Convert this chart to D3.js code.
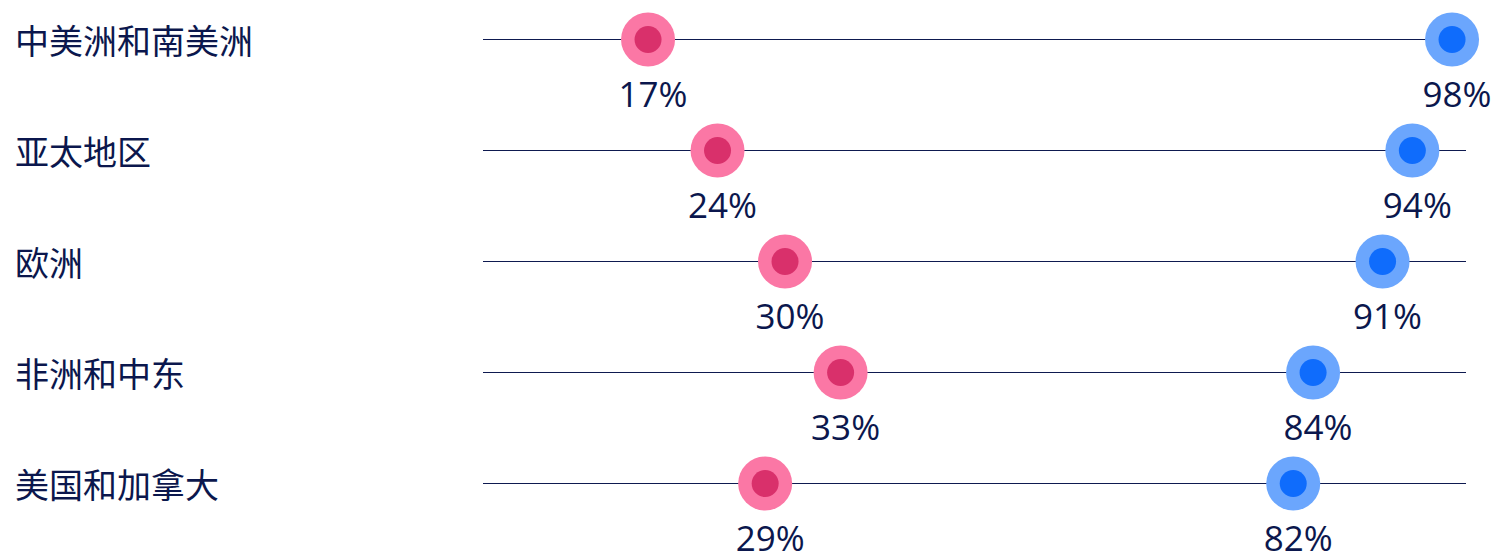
<!DOCTYPE html>
<html>
<head>
<meta charset="utf-8">
<script src="https://cdn.jsdelivr.net/npm/d3@7"></script>
<style>
  body { margin: 0; background: #fff; }
  svg { display: block; }
  .cat { font-family: "Noto Sans CJK SC", sans-serif; font-size: 34px; fill: #0b174d; }
  .val { font-family: "Open Sans", "Noto Sans", sans-serif; font-size: 35px; fill: #0b174d; }
</style>
</head>
<body>
<div id="chart"></div>
<script>
const width = 1497, height = 557;

// regions, top to bottom
const regions = ["中美洲和南美洲", "亚太地区", "欧洲", "非洲和中东", "美国和加拿大"];
// dot positions (percent)
const lowValues = [17, 24, 30.8, 36.4, 28.8];
const highValues = [98, 94, 91, 84, 82];
// printed labels
const lowLabels = ["17%", "24%", "30%", "33%", "29%"];
const highLabels = ["98%", "94%", "91%", "84%", "82%"];

const pinkOuter = "#fb77a5", pinkInner = "#d9306b";
const blueOuter = "#6ba6fd", blueInner = "#0f6cfc";

const rows = regions.map((r, i) => ({
  region: r,
  low: lowValues[i], lowLabel: lowLabels[i],
  high: highValues[i], highLabel: highLabels[i]
}));

const svg = d3.select("#chart").append("svg")
  .attr("width", width)
  .attr("height", height);

const xScale = d3.scaleLinear()
  .domain([0, 100])
  .range([479.3, 1471.9]);

const yScale = d3.scalePoint()
  .domain(regions)
  .range([39.5, 483.5]);

const lineStart = 483, lineEnd = 1466;

const row = svg.selectAll("g.row")
  .data(rows)
  .join("g")
    .attr("class", "row")
    .attr("transform", d => `translate(0, ${yScale(d.region)})`);

// horizontal track
row.append("line")
  .attr("x1", lineStart)
  .attr("x2", lineEnd)
  .attr("stroke", "#0e1a50")
  .attr("stroke-width", 1)
  .attr("shape-rendering", "crispEdges");

// category name
row.append("text")
  .attr("class", "cat")
  .attr("x", 15)
  .attr("y", 0)
  .attr("dominant-baseline", "central")
  .text(d => d.region);

// dots + labels for both ends
const ends = [
  { key: "low", label: "lowLabel", outer: pinkOuter, inner: pinkInner },
  { key: "high", label: "highLabel", outer: blueOuter, inner: blueInner }
];

ends.forEach(e => {
  row.append("circle")
    .attr("cx", d => xScale(d[e.key]))
    .attr("r", 27)
    .attr("fill", e.outer);
  row.append("circle")
    .attr("cx", d => xScale(d[e.key]))
    .attr("r", 13.5)
    .attr("fill", e.inner);
  row.append("text")
    .attr("class", "val")
    .attr("x", d => xScale(d[e.key]) + 5)
    .attr("y", 67)
    .attr("text-anchor", "middle")
    .text(d => d[e.label]);
});
</script>
</body>
</html>
